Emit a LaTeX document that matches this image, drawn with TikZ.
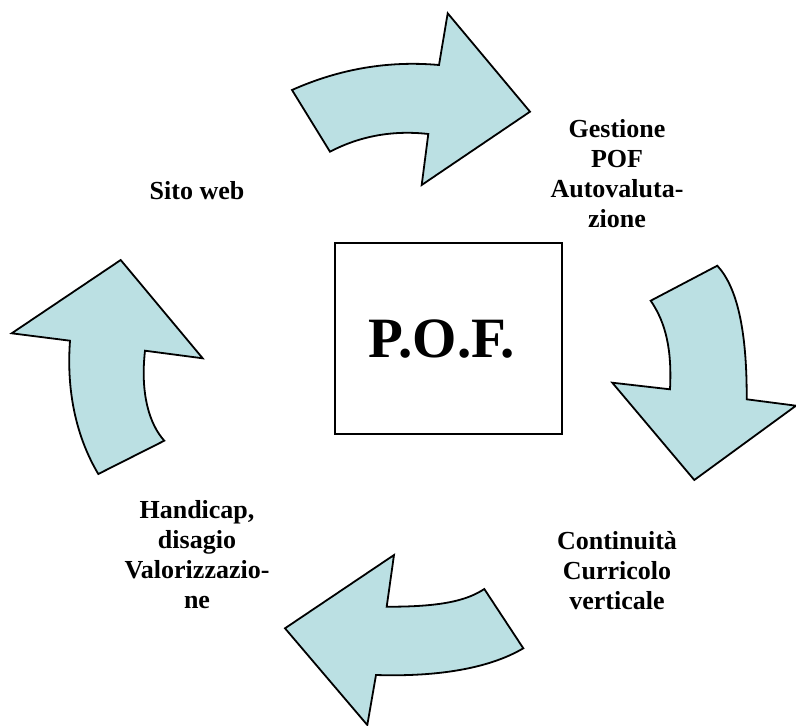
\documentclass[tikz,border=0pt]{standalone}
\usepackage{fontspec}
\setmainfont{Liberation Serif}
\definecolor{arrowfill}{RGB}{187,224,227}
\tikzset{
  bigarrow/.style={draw=black, fill=arrowfill, line width=1.8pt, line join=miter},
  lbl/.style={align=center, font=\fontsize{26}{30}\selectfont\bfseries, inner sep=0pt},
  centerbox/.style={draw=black, line width=2pt, fill=white}
}
\begin{document}
\begin{tikzpicture}[x=1pt,y=-1pt]
\useasboundingbox (0,0) rectangle (796,726);

% top arrow (to the right)
\path[bigarrow] (292,90) .. controls (334,71.3) and (383,60) .. (439,65)
  -- (447.7,13.3) -- (530,111.7) -- (421.7,185) -- (428.3,134)
  .. controls (393,130) and (360,136) .. (330,151.7) -- cycle;

% right arrow (downward)
\path[bigarrow] (650.7,300.7) -- (717.3,265.7)
  .. controls (737,287) and (747,330) .. (746.7,399.3)
  -- (796,405.7) -- (694.3,480) -- (612.3,382.7) -- (670,389.3)
  .. controls (672,350) and (666,323) .. (650.7,300.7) -- cycle;

% bottom arrow (to the left)
\path[bigarrow] (484.3,589) .. controls (469,599) and (446,607) .. (386.7,606.7)
  -- (394,555) -- (285,628.3) -- (367.3,725) -- (376,675)
  .. controls (439,677) and (490,668) .. (523.3,648.3) -- cycle;

% left arrow (upward)
\path[bigarrow] (98.3,474) -- (164.3,440.7)
  .. controls (150,425) and (140,395) .. (145,350.7)
  -- (202.7,358.3) -- (120.7,260) -- (11.7,333.3) -- (70,340.7)
  .. controls (66,395) and (78,440) .. (98.3,474) -- cycle;

% central box
\node[centerbox, minimum width=227pt, minimum height=191pt, inner sep=0pt] (pof) at (448.5,338.5) {};
\node[font=\fontsize{57}{62}\selectfont\bfseries, inner sep=0pt] (poftxt) at (442,339) {P.O.F.};

% labels
\node[lbl] (gestione) at (617,174) {Gestione\\POF\\Autovaluta-\\zione};
\node[lbl] (sito) at (197,191) {Sito web};
\node[lbl] (handicap) at (197,555) {Handicap,\\disagio\\Valorizzazio-\\ne};
\node[lbl] (continuita) at (617,571) {Continuità\\Curricolo\\verticale};
\end{tikzpicture}
\end{document}
